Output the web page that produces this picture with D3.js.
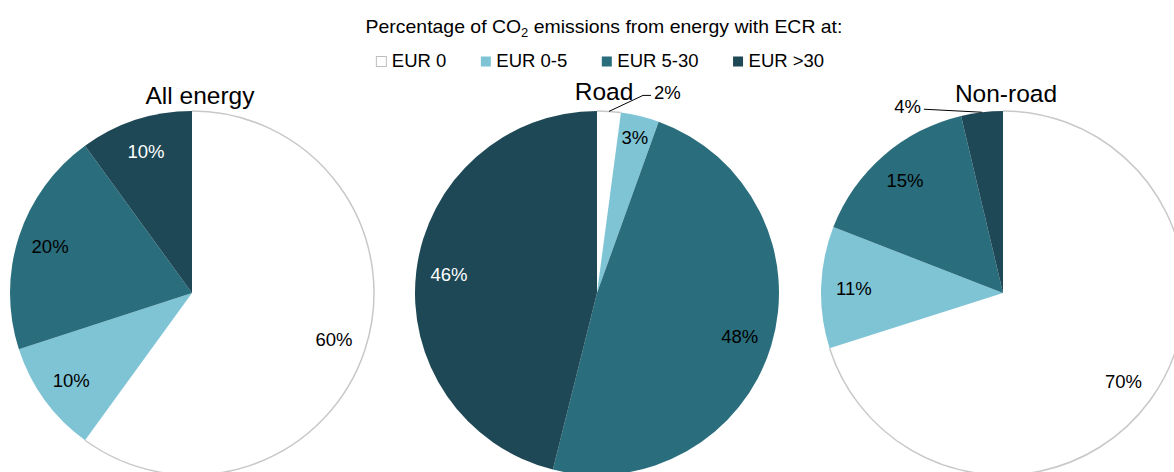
<!DOCTYPE html>
<html>
<head>
<meta charset="utf-8">
<title>ECR pies</title>
<style>
  body { margin: 0; background: #fff; }
  text { font-family: "Liberation Sans", Arial, sans-serif; }
</style>
</head>
<body>
<div id="chart"></div>
<script src="https://cdn.jsdelivr.net/npm/d3@7"></script>
<script>
// categories and series
var categories = ["EUR 0", "EUR 0-5", "EUR 5-30", "EUR >30"];
var colors = ["#ffffff", "#7fc4d5", "#2a6d7c", "#1e4855"];
var pieTitles = ["All energy", "Road", "Non-road"];
var allEnergy = [60, 10, 20, 10];
var road = [2.1, 3.4, 48.4, 46.1];
var nonRoad = [70.1, 10.8, 15.4, 3.7];
var series = [allEnergy, road, nonRoad];

var w = 1174, h = 472;
var svg = d3.select("#chart").append("svg")
  .attr("width", w).attr("height", h);

// heading (reference font is a bit wider, so stretch a little)
var head = svg.append("text")
  .attr("transform", "translate(604,33) scale(1.08,1)")
  .attr("text-anchor", "middle")
  .attr("font-size", "18px")
  .attr("fill", "#000");
head.append("tspan").text("Percentage of CO");
head.append("tspan").text("2").attr("font-size", "12px").attr("dy", 4);
head.append("tspan").text(" emissions from energy with ECR at:").attr("dy", -4);

// legend
var legend = svg.append("g");
var lx = 0, gap = 34;
categories.forEach(function(c, i) {
  var g = legend.append("g").attr("transform", "translate(" + lx + ",0)");
  g.append("rect")
    .attr("x", 0.5).attr("y", 56.5)
    .attr("width", 10).attr("height", 10)
    .attr("fill", colors[i])
    .attr("stroke", i == 0 ? "#bdbdbd" : "none");
  var t = g.append("text")
    .attr("x", 16).attr("y", 67)
    .attr("font-size", "18.5px")
    .attr("fill", "#000")
    .text(c);
  lx += 16 + t.node().getComputedTextLength() + gap;
});
var lw = lx - gap;
legend.attr("transform", "translate(" + (600 - lw / 2) + ",0)");

// pies
var centers = [[192, 293], [597, 293], [1003, 293]];
var titleX = [200, 604, 1006];
var titleY = [104, 100, 102];
var R = 182;

var pie = d3.pie().sort(null).value(function(d) { return d; });
var arc = d3.arc().innerRadius(0).outerRadius(R);
var rim = d3.arc().innerRadius(R).outerRadius(R);
var labelArc = d3.arc().innerRadius(R * 0.82).outerRadius(R * 0.82);
var smallArc = d3.arc().innerRadius(R * 0.88).outerRadius(R * 0.88);
var fmt = d3.format(".0f");

// labels placed outside with a leader line: [pie, slice, elbow dx, elbow dy, tail]
var outside = [[1, 0, 34, -16, 8], [2, 3, -58, -3, 0]];

series.forEach(function(vals, p) {
  var g = svg.append("g")
    .attr("transform", "translate(" + centers[p][0] + "," + centers[p][1] + ")");
  var arcs = pie(vals);

  g.selectAll("path.slice")
    .data(arcs)
    .enter().append("path")
    .attr("class", "slice")
    .attr("d", arc)
    .attr("fill", function(d, i) { return colors[i]; });

  // grey outline on white slice rim
  g.append("path")
    .attr("d", rim(arcs[0]))
    .attr("fill", "none")
    .attr("stroke", "#c8c8c8")
    .attr("stroke-width", 1.5);

  arcs.forEach(function(d, i) {
    var out = outside.filter(function(o) { return o[0] == p && o[1] == i; })[0];
    if (out) {
      var a = (d.startAngle + d.endAngle) / 2;
      var x0 = Math.sin(a) * R, y0 = -Math.cos(a) * R;
      var x1 = x0 + out[2], y1 = y0 + out[3];
      var x2 = x1 + (out[2] > 0 ? out[4] : -out[4]);
      g.append("polyline")
        .attr("points", [[x0, y0], [x1, y1], [x2, y1]].join(" "))
        .attr("fill", "none")
        .attr("stroke", "#000")
        .attr("stroke-width", 1);
      g.append("text")
        .attr("x", x2 + (out[2] > 0 ? 3 : -3))
        .attr("y", y1 - 3)
        .attr("dy", "0.35em")
        .attr("text-anchor", out[2] > 0 ? "start" : "end")
        .attr("font-size", "18.5px")
        .attr("fill", "#000")
        .text(fmt(d.value) + "%");
    } else {
      var c = (d.value < 5 ? smallArc : labelArc).centroid(d);
      g.append("text")
        .attr("x", c[0]).attr("y", c[1])
        .attr("dy", "0.35em")
        .attr("text-anchor", "middle")
        .attr("font-size", "18.5px")
        .attr("fill", i == 3 ? "#fff" : "#000")
        .text(fmt(d.value) + "%");
    }
  });

  svg.append("text")
    .attr("x", titleX[p]).attr("y", titleY[p])
    .attr("text-anchor", "middle")
    .attr("font-size", "24.5px")
    .attr("fill", "#000")
    .text(pieTitles[p]);
});
</script>
</body>
</html>
